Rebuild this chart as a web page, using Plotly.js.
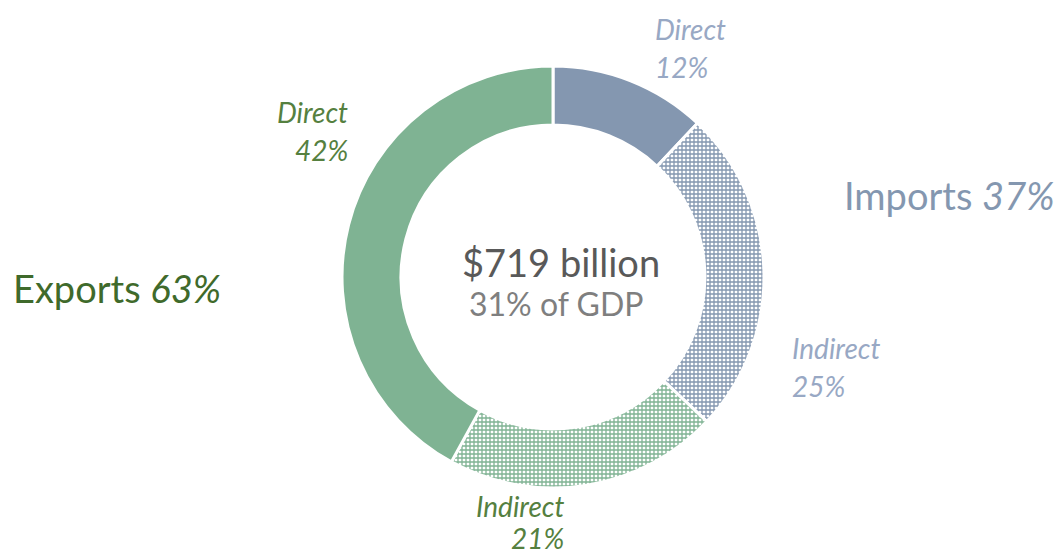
<!DOCTYPE html>
<html>
<head>
<meta charset="utf-8">
<script src="https://cdn.plot.ly/plotly-3.0.1.min.js"></script>
<style>html,body{margin:0;padding:0;background:#fff;}#chart{width:1059px;height:558px;}</style>
</head>
<body>
<div id="chart"></div>
<script>
// ---- data ----
const sliceLabels = ["Direct", "Indirect", "Indirect", "Direct"];
const sliceGroups = ["Imports", "Imports", "Exports", "Exports"];
const sliceValues = [12, 25, 21, 42];
const totalText = "$719 billion";
const gdpText = "31% of GDP";

// ---- styles ----
const W = 1059, H = 558;
const sliceColors = ["#8497B0", "#8497B0", "#7FB393", "#7FB393"];
const slicePattern = ["", "+", "+", ""];
const labelColors = {Imports: "#98A8C4", Exports: "#55803F"};
const groupColors = {Imports: "#8497B0", Exports: "#3F6A2B"};
const FONT = "Lato, 'Open Sans', sans-serif";

const px = x => x / W;
const py = y => 1 - y / H;

const trace = {
  type: "pie",
  values: sliceValues,
  labels: sliceLabels.map((l, i) => sliceGroups[i] + " " + l),
  sort: false,
  direction: "clockwise",
  rotation: 0,
  hole: 0.72,
  textinfo: "none",
  hoverinfo: "label+value",
  showlegend: false,
  domain: {x: [px(342), px(764)], y: [py(488), py(66)]},
  marker: {
    colors: sliceColors,
    line: {color: "#ffffff", width: 3},
    pattern: {
      shape: slicePattern,
      fgcolor: sliceColors,
      bgcolor: "#ffffff",
      fillmode: "replace",
      size: 4,
      solidity: 0.55
    }
  }
};

// label positions (pixel) per slice: [x, yLine1, yLine2, anchor]
const labelPos = [
  [653, 29, 67, "left"],
  [790, 348, 386, "left"],
  [566, 506, 538, "right"],
  [350, 112, 150, "right"]
];

const annotations = [];
sliceValues.forEach((v, i) => {
  const [x, y1, y2, anc] = labelPos[i];
  const c = labelColors[sliceGroups[i]];
  annotations.push({xref: "paper", yref: "paper", x: px(x), y: py(y1), xanchor: anc, yanchor: "middle",
    text: "<i>" + sliceLabels[i] + "</i>", showarrow: false, font: {family: FONT, size: 28, color: c}});
  annotations.push({xref: "paper", yref: "paper", x: px(x), y: py(y2), xanchor: anc, yanchor: "middle",
    text: "<i>" + v + "%</i>", showarrow: false, font: {family: FONT, size: 28, color: c}});
});

function groupTotal(g) {
  return sliceValues.reduce((s, v, i) => s + (sliceGroups[i] === g ? v : 0), 0);
}
annotations.push({xref: "paper", yref: "paper", x: px(11), y: py(288), xanchor: "left", yanchor: "middle",
  text: "Exports <i>" + groupTotal("Exports") + "%</i>", showarrow: false,
  font: {family: FONT, size: 38, color: groupColors.Exports}});
annotations.push({xref: "paper", yref: "paper", x: px(842), y: py(195), xanchor: "left", yanchor: "middle",
  text: "Imports <i>" + groupTotal("Imports") + "%</i>", showarrow: false,
  font: {family: FONT, size: 38, color: groupColors.Imports}});
annotations.push({xref: "paper", yref: "paper", x: px(561), y: py(262), xanchor: "center", yanchor: "middle",
  text: totalText, showarrow: false, font: {family: FONT, size: 38, color: "#595959"}});
annotations.push({xref: "paper", yref: "paper", x: px(556), y: py(303), xanchor: "center", yanchor: "middle",
  text: gdpText, showarrow: false, font: {family: FONT, size: 32, color: "#7F7F7F"}});

const layout = {
  width: W, height: H,
  margin: {l: 0, r: 0, t: 0, b: 0},
  paper_bgcolor: "#ffffff",
  plot_bgcolor: "#ffffff",
  annotations: annotations
};

Plotly.newPlot("chart", [trace], layout, {displayModeBar: false, staticPlot: true});
</script>
</body>
</html>
